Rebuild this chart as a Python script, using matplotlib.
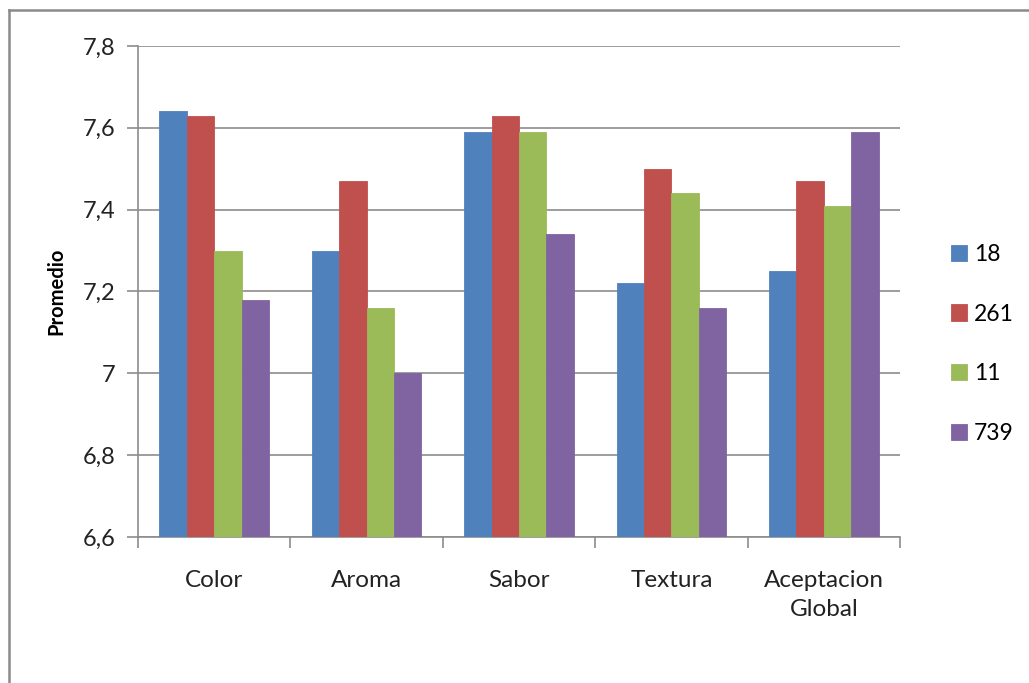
import matplotlib
matplotlib.use("Agg")
import matplotlib.pyplot as plt
import numpy as np
from matplotlib.lines import Line2D

categories = ["Color", "Aroma", "Sabor", "Textura", "Aceptacion\nGlobal"]
series_names = ["18", "261", "11", "739"]
s18 = [7.64, 7.30, 7.59, 7.22, 7.25]
s261 = [7.63, 7.47, 7.63, 7.50, 7.47]
s11 = [7.30, 7.16, 7.59, 7.44, 7.41]
s739 = [7.18, 7.00, 7.34, 7.16, 7.59]
yticks = [6.6, 6.8, 7.0, 7.2, 7.4, 7.6, 7.8]
ytick_labels = ["6,6", "6,8", "7", "7,2", "7,4", "7,6", "7,8"]
colors = ["#4F81BD", "#C0504D", "#9BBB59", "#8064A2"]

plt.rcParams['font.family'] = ['Lato', 'DejaVu Sans']

W, H = 1029, 683
fig = plt.figure(figsize=(W / 100, H / 100), dpi=100)
ax = fig.add_axes([138 / W, 1 - 537 / H, (900 - 138) / W, (537 - 46) / H])

data = [s18, s261, s11, s739]
x = np.arange(len(categories))
bw = 0.18
for i, (vals, name, c) in enumerate(zip(data, series_names, colors)):
    ax.bar(x + (i - 1.5) * bw, np.array(vals) - 6.6, bw, bottom=6.6, color=c,
           label=name, zorder=3, linewidth=0.6, edgecolor=c)

ax.set_xlim(-0.5, len(categories) - 0.5)
ax.set_ylim(6.6, 7.8)
ax.set_yticks(yticks)
ax.set_yticklabels(ytick_labels, fontsize=17, color="#222222")
ax.yaxis.grid(True, color="#8c8c8c", linewidth=1.2, zorder=0)
ax.set_axisbelow(True)

ax.set_xticks(np.arange(len(categories) + 1) - 0.5)
ax.set_xticklabels([])
ax.set_xticks(x, minor=True)
ax.set_xticklabels(categories, minor=True, fontsize=17.5, color="#222222",
                   linespacing=1.45, va="top")
ax.tick_params(axis="x", which="minor", length=0, pad=24)
ax.tick_params(axis="x", which="major", length=8, width=1.2, color="#8c8c8c", direction="out")
ax.tick_params(axis="y", length=8, width=1.2, color="#8c8c8c", direction="out", pad=8)

for s in ["top", "right"]:
    ax.spines[s].set_visible(False)
for s in ["left", "bottom"]:
    ax.spines[s].set_color("#8c8c8c")
    ax.spines[s].set_linewidth(1.2)

ax.set_ylabel("Promedio", fontsize=14.5, fontweight="bold", labelpad=12)

leg = fig.legend(loc="center left", bbox_to_anchor=(942 / W, 1 - 344 / H), frameon=False,
                 fontsize=16.5, handlelength=0.7, handleheight=0.7, handletextpad=0.3,
                 labelspacing=1.7, borderaxespad=0)

fig.add_artist(Line2D([9 / W, 1.0], [1 - 10 / H, 1 - 10 / H], transform=fig.transFigure,
                      color="#8a8a8a", linewidth=1.8))
fig.add_artist(Line2D([9 / W, 9 / W], [0.0, 1 - 10 / H], transform=fig.transFigure,
                      color="#8a8a8a", linewidth=1.8))

fig.savefig("out.png", dpi=100)
